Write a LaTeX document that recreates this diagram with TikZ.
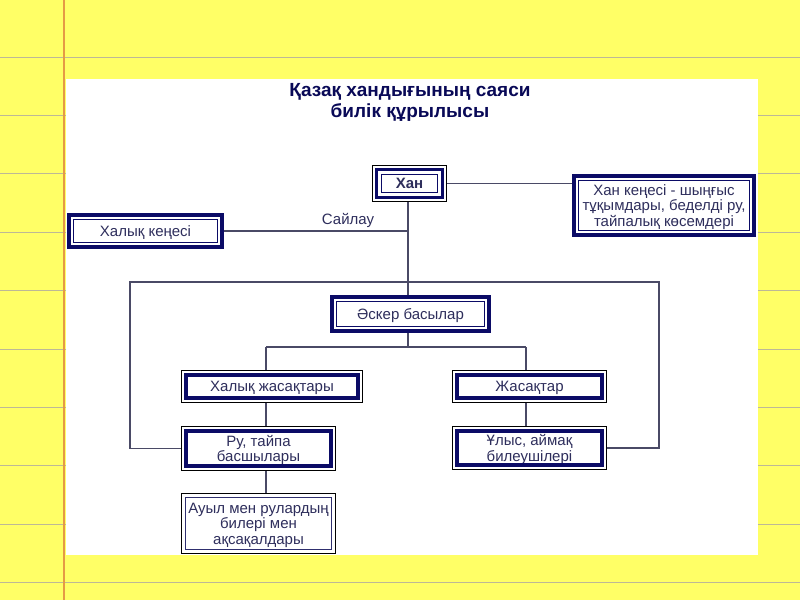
\documentclass[tikz,border=0pt]{standalone}
\usepackage{fontspec}
\setmainfont{Liberation Sans}
\definecolor{paper}{HTML}{FFFF66}
\definecolor{rule}{HTML}{BDB896}
\definecolor{margin}{HTML}{E59A45}
\definecolor{navy}{HTML}{0B0B66}
\definecolor{txt}{HTML}{2E2E5C}
\definecolor{thin}{HTML}{6A6A80}
\definecolor{wire}{HTML}{4A4A66}
\newcommand\frm[3]{\draw[#3] ([xshift=#2,yshift=-#2]#1.north west) rectangle ([xshift=-#2,yshift=#2]#1.south east);}
\newcommand\boxA[1]{\frm{#1}{2pt}{navy,line width=4pt}\frm{#1}{7pt}{navy,line width=0.8pt}}
\newcommand\boxB[1]{\frm{#1}{0.5pt}{thin,line width=1pt}\frm{#1}{5pt}{navy,line width=4pt}}
\newcommand\boxC[1]{\frm{#1}{0.5pt}{thin,line width=1pt}\frm{#1}{4.5pt}{navy,line width=3.5pt}\frm{#1}{9.5pt}{navy,line width=0.8pt}}
\newcommand\boxD[1]{\frm{#1}{0.5pt}{thin,line width=1pt}\frm{#1}{5pt}{navy!70!gray,line width=0.9pt}}
\begin{document}
\begin{tikzpicture}[x=1pt,y=-1pt,
  bx/.style={rectangle,inner sep=0pt,align=center,text=txt,text depth=0pt,
    font=\fontsize{15}{15.5}\selectfont},
  conn/.style={wire,line width=1.2pt}]
\useasboundingbox (0,0) rectangle (800,600);
\fill[paper] (0,0) rectangle (800,600);
\foreach \k in {0,...,9} \draw[rule,line width=1pt] (0,{57+58.4*\k}) -- (800,{57+58.4*\k});
\draw[margin,line width=2pt] (64,0) -- (64,600);
\fill[white] (66,79) rectangle (758,555);
% title
\node[text=navy!85!black,font=\fontsize{19}{21}\selectfont\bfseries,align=center] (title) at (410,102) {Қазақ хандығының саяси\\билік құрылысы};
% boxes
\node[bx,minimum width=75pt,minimum height=37pt,font=\fontsize{15}{15.5}\selectfont\bfseries] (han) at (409.5,183.5) {Хан};
\node[bx,minimum width=184pt,minimum height=63pt] (hk) at (664,205.5) {Хан кеңесі - шыңғыс\\тұқымдары, беделді ру,\\тайпалық көсемдері};
\node[bx,minimum width=157pt,minimum height=36pt] (xk) at (145.5,231) {Халық кеңесі};
\node[bx,minimum width=161pt,minimum height=38pt] (ask) at (410.5,314) {Әскер басылар};
\node[bx,minimum width=182pt,minimum height=33pt] (hj) at (272,386.5) {Халық жасақтары};
\node[bx,minimum width=155pt,minimum height=45pt] (ru) at (258.5,448.5) {Ру, тайпа\\басшылары};
\node[bx,minimum width=155pt,minimum height=61pt] (au) at (258.5,523.5) {Ауыл мен рулардың\\билері мен\\ақсақалдары};
\node[bx,minimum width=155pt,minimum height=33pt] (zh) at (529.5,386.5) {Жасақтар};
\node[bx,minimum width=155pt,minimum height=44pt] (ul) at (529.5,448) {Ұлыс, аймақ\\билеушілері};
\boxC{han}
\boxA{hk}\boxA{xk}\boxA{ask}
\boxB{hj}\boxB{ru}\boxB{zh}\boxB{ul}
\boxD{au}
% connectors
\coordinate (vx) at (408,0);
\coordinate (lt) at (130,282);
\coordinate (rt) at (659,282);
\coordinate (bl) at (266,347);
\coordinate (br) at (526,347);
\draw[conn] (vx |- han.south) -- (vx |- ask.north);
\draw[conn] (han.east) -- (han.east -| hk.west);
\draw[conn] (xk.east) -- (vx |- xk.east);
\node[text=txt,font=\fontsize{15}{15}\selectfont] (sailau) at (348,220) {Сайлау};
\draw[conn] (ru.west) -| (lt) -- (rt) |- (ul.east);
\draw[conn] (vx |- ask.south) -- (vx |- bl);
\draw[conn] (bl) -- (br);
\draw[conn] (bl) -- (bl |- hj.north);
\draw[conn] (br) -- (br |- zh.north);
\draw[conn] (bl |- hj.south) -- (bl |- ru.north);
\draw[conn] (bl |- ru.south) -- (bl |- au.north);
\draw[conn] (br |- zh.south) -- (br |- ul.north);
\end{tikzpicture}
\end{document}
